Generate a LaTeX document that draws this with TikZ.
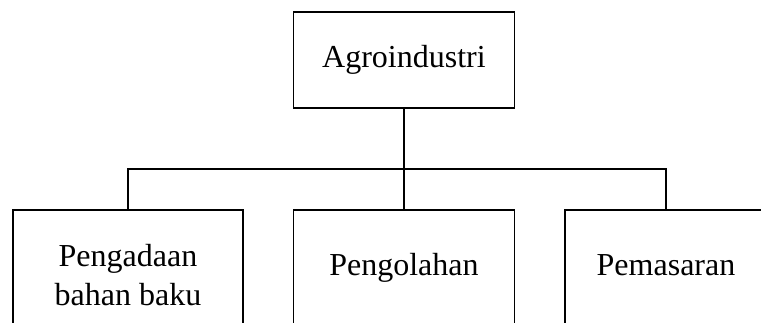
\documentclass[tikz,border=0pt]{standalone}
\usepackage{fontspec}
\setmainfont{Liberation Serif}
\begin{document}
\begin{tikzpicture}[x=1pt,y=-1pt,
  box/.style={draw,line width=1.6pt,inner sep=0pt,align=center,
    font=\fontsize{32}{39}\selectfont},
  oneline/.style={text height=22pt,text depth=7pt},
  conn/.style={line width=1.6pt}]
\useasboundingbox (0,0) rectangle (761,322);
\clip (0,0) rectangle (761,322);
\node[box,oneline,minimum width=221pt,minimum height=96pt] (top) at (404,60) {Agroindustri};
\node[box,minimum width=230pt,minimum height=130pt] (left) at (128,275) {Pengadaan\\bahan baku};
\node[box,oneline,minimum width=221pt,minimum height=116pt] (mid) at (404,268) {Pengolahan};
\node[box,oneline,minimum width=202pt,minimum height=116pt] (right) at (666,268) {Pemasaran};
\coordinate (j) at (404,169);
\draw[conn] (top.south) -- (j);
\draw[conn] (left.north) |- (j) -| (right.north);
\draw[conn] (j) -- (mid.north);
\end{tikzpicture}
\end{document}
